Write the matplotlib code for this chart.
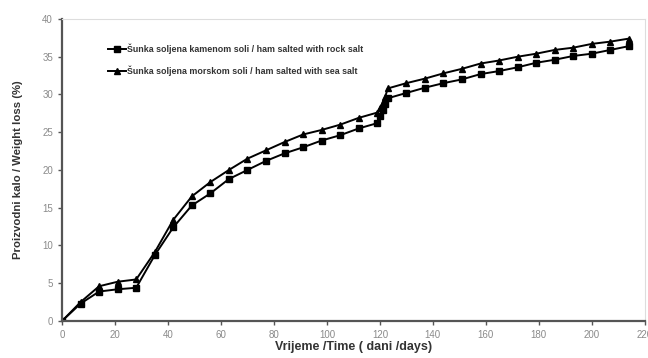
import matplotlib
matplotlib.use("Agg")
import matplotlib.pyplot as plt

plt.rcParams['font.family'] = ['Liberation Sans', 'DejaVu Sans']

# dani (days)
days = [0, 7, 14, 21, 28, 35, 42, 49, 56, 63, 70, 77, 84, 91, 98, 105, 112, 119,
        120, 121, 122,
        123, 130, 137, 144, 151, 158, 165, 172, 179, 186, 193, 200, 207, 214]

# kamena sol / rock salt (%)
rock_salt = [0, 2.3, 3.9, 4.2, 4.4, 8.7, 12.4, 15.3, 16.9, 18.8, 20.0, 21.2, 22.2, 23.0, 23.9, 24.6, 25.5, 26.2,
             27.1, 27.9, 28.7,
             29.5, 30.2, 30.9, 31.5, 32.0, 32.7, 33.1, 33.6, 34.2, 34.6, 35.1, 35.4, 35.9, 36.4]

# morska sol / sea salt (%)
sea_salt = [0, 2.5, 4.6, 5.2, 5.5, 9.1, 13.4, 16.5, 18.4, 20.0, 21.5, 22.6, 23.7, 24.7, 25.3, 26.0, 26.9, 27.6,
            28.2, 28.9, 29.7,
            30.8, 31.5, 32.1, 32.8, 33.4, 34.1, 34.5, 35.0, 35.4, 35.9, 36.2, 36.7, 37.0, 37.4]

labels = ['Šunka soljena kamenom soli / ham salted with rock salt',
          'Šunka soljena morskom soli / ham salted with sea salt']

fig = plt.figure(figsize=(6.48, 3.58), dpi=100)
ax = fig.add_axes([0.0957, 0.1034, 0.8993, 0.8436])

ax.plot(days, rock_salt, color='black', lw=1.4, marker='s', ms=4.2, label=labels[0])
ax.plot(days, sea_salt, color='black', lw=1.4, marker='^', ms=4.2, label=labels[1])

ax.set_xlim(0, 220)
ax.set_ylim(0, 40)
ax.set_xticks(range(0, 221, 20))
ax.set_yticks(range(0, 41, 5))
ax.tick_params(axis='both', labelsize=7, labelcolor='#8a8a8a', color='#555555',
               direction='out', length=3, width=1)

for side in ['top', 'right']:
    ax.spines[side].set_color('#dddddd')
    ax.spines[side].set_linewidth(0.8)
for side in ['left', 'bottom']:
    ax.spines[side].set_color('#555555')
    ax.spines[side].set_linewidth(1.6)

ax.set_xlabel('Vrijeme /Time ( dani /days)', fontsize=9, fontweight='bold', color='#333333', labelpad=1)
ax.set_ylabel('Proizvodni kalo / Weight loss (%)', fontsize=8.2, fontweight='bold', color='#333333', labelpad=14)

leg = ax.legend(loc='upper left', bbox_to_anchor=(0.065, 0.945), frameon=False,
                fontsize=6.4, handlelength=2.0, handletextpad=0.15, labelspacing=1.25)
for t in leg.get_texts():
    t.set_fontweight('bold')
    t.set_color('#333333')

fig.savefig('out.png', dpi=100)
